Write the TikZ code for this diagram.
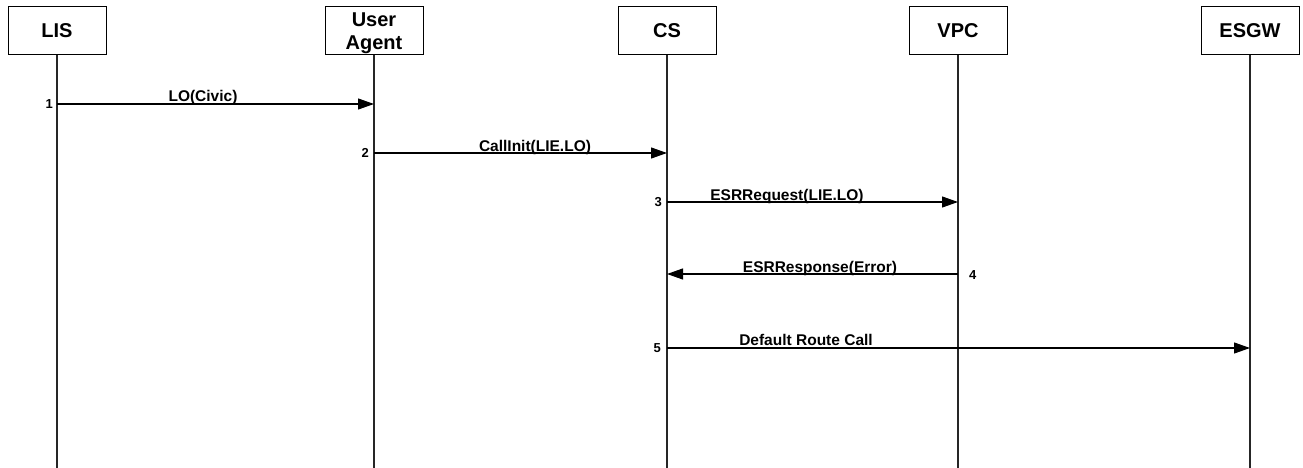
\documentclass[tikz,border=0pt]{standalone}
\usepackage{fontspec}
\setmainfont{Liberation Sans}
\usetikzlibrary{arrows.meta}
\begin{document}
\begin{tikzpicture}[x=1pt,y=-1pt,
  actor/.style={draw, line width=1pt, minimum width=98pt, minimum height=48pt,
    inner sep=0pt, align=center, font=\fontsize{20}{23}\selectfont\bfseries},
  life/.style={line width=1.3pt, black!85},
  msg/.style={line width=1.1pt, -{Triangle[length=16pt,width=11pt]}},
  lbl/.style={font=\fontsize{15.5}{17}\selectfont\bfseries, anchor=base, inner sep=0pt},
  num/.style={font=\fontsize{13}{14}\selectfont\bfseries, inner sep=0pt}]
\useasboundingbox (0,0) rectangle (1303,468);

% participants
\node[actor] (lis)  at (57,31)   {LIS};
\node[actor, label={[font=\fontsize{20}{23}\selectfont\bfseries, align=center,
    inner sep=0pt, yshift=-2.5pt]center:User\\Agent}] (ua) at (374,31) {};
\node[actor] (cs)   at (667,31)  {CS};
\node[actor] (vpc)  at (958,31)  {VPC};
\node[actor] (esgw) at (1250,31) {ESGW};

% lifeline ends
\coordinate (lisE)  at (57,468);
\coordinate (uaE)   at (374,468);
\coordinate (csE)   at (667,468);
\coordinate (vpcE)  at (958,468);
\coordinate (esgwE) at (1250,468);

\draw[life] (lis.south)  -- (lisE);
\draw[life] (ua.south)   -- (uaE);
\draw[life] (cs.south)   -- (csE);
\draw[life] (vpc.south)  -- (vpcE);
\draw[life] (esgw.south) -- (esgwE);

% message anchor points on the lifelines
\coordinate (m1a) at (57,104);   \coordinate (m1b) at (374,104);
\coordinate (m2a) at (374,153);  \coordinate (m2b) at (667,153);
\coordinate (m3a) at (667,202);  \coordinate (m3b) at (958,202);
\coordinate (m4a) at (958,274);  \coordinate (m4b) at (667,274);
\coordinate (m5a) at (667,348);  \coordinate (m5b) at (1250,348);

% messages
\draw[msg] (m1a) -- (m1b);
\draw[msg] (m2a) -- (m2b);
\draw[msg] (m3a) -- (m3b);
\draw[msg] (m4a) -- (m4b);
\draw[msg] (m5a) -- (m5b);

% message labels
\node[lbl] (l1) at (203,102) {LO(Civic)};
\node[lbl] (l2) at (535,151) {CallInit(LIE.LO)};
\node[lbl] (l3) at (787,200) {ESRRequest(LIE.LO)};
\node[lbl] (l4) at (820,272) {ESRResponse(Error)};
\node[lbl] (l5) at (806,345) {Default Route Call};

% step numbers
\node[num, anchor=east] (n1) at (53,104)  {1};
\node[num, anchor=east] (n2) at (369,153) {2};
\node[num, anchor=east] (n3) at (662,202) {3};
\node[num, anchor=west] (n4) at (969,275) {4};
\node[num, anchor=east] (n5) at (661,348) {5};
\end{tikzpicture}
\end{document}
